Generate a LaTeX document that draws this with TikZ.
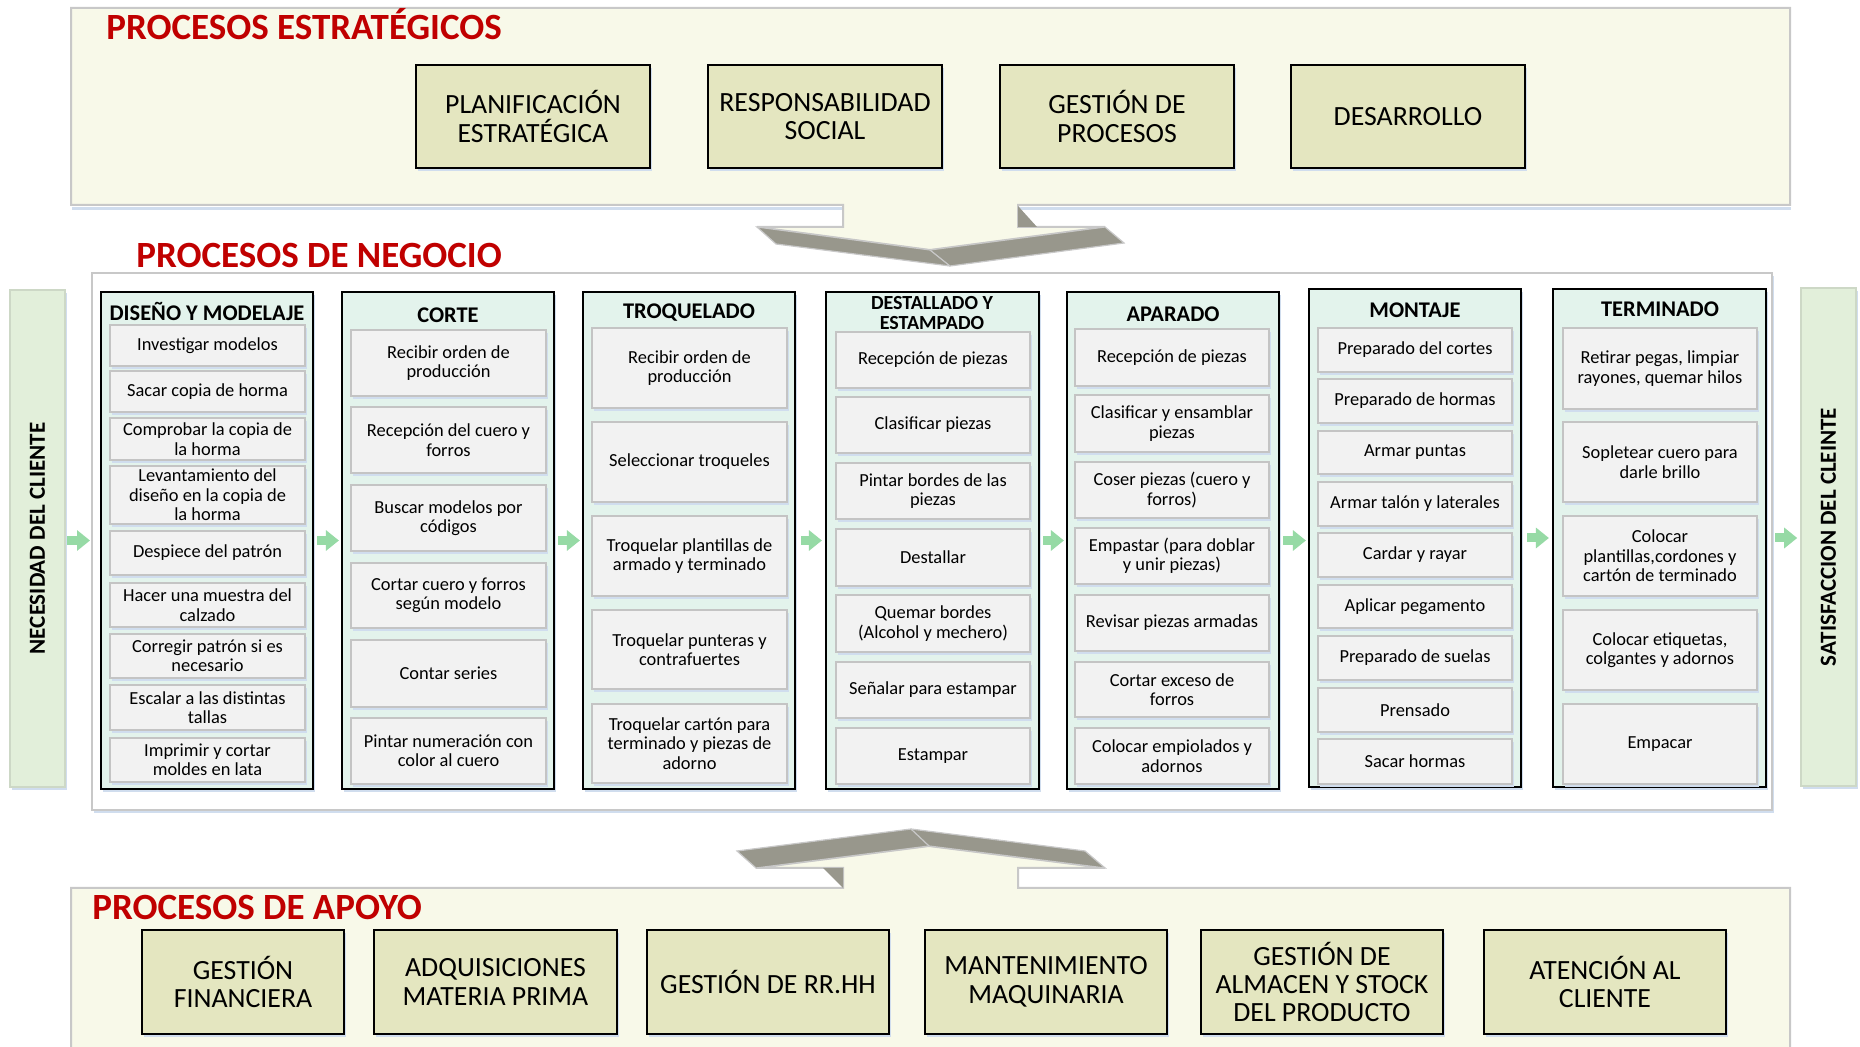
\documentclass[tikz,border=0pt]{standalone}
\usepackage{fontspec}
\setmainfont{Carlito}
\usetikzlibrary{shadows,arrows.meta}
\definecolor{panelc}{RGB}{248,249,233}
\definecolor{panelb}{RGB}{200,200,200}
\definecolor{boxc}{RGB}{228,230,192}
\definecolor{colc}{RGB}{227,243,236}
\definecolor{taskc}{RGB}{242,242,242}
\definecolor{taskb}{RGB}{196,196,196}
\definecolor{sidec}{RGB}{226,239,218}
\definecolor{sideb}{RGB}{205,216,198}
\definecolor{greenc}{RGB}{150,218,165}
\definecolor{bevelc}{RGB}{152,151,140}
\definecolor{redc}{RGB}{192,0,0}
\definecolor{shc}{RGB}{208,221,238}
\begin{document}
\begin{tikzpicture}[x=0.5pt,y=-0.5pt,
  rectat/.style n args={4}{at={({(#1+#3)/2},{(#2+#4)/2})}, minimum width={(#3-#1)*0.5pt}, minimum height={(#4-#2)*0.5pt}, anchor=center},
  shadowed/.style={general shadow={fill=shc, shadow xshift=1.2pt, shadow yshift=-1.5pt}},
  bigbox/.style={shadowed, fill=boxc, draw=black, line width=0.9pt, inner sep=0pt, align=center, font=\fontsize{13.9}{14.2}\selectfont},
  colbox/.style={shadowed, fill=colc, draw=black, line width=1.1pt, inner sep=0pt},
  task/.style={shadowed, fill=taskc, draw=taskb, line width=1pt, inner sep=0pt, align=center, font=\fontsize{9.2}{9.7}\selectfont},
  coltitle/.style={font=\bfseries\fontsize{11.2}{11.2}\selectfont, inner sep=0pt, align=center},
  redtitle/.style={font=\bfseries\fontsize{18.5}{18.5}\selectfont, text=redc, inner sep=0pt, anchor=base west},
  sidebox/.style={shadowed, fill=sidec, draw=sideb, line width=0.8pt, inner sep=0pt},
  sidetext/.style={rotate=90, font=\bfseries\fontsize{11.5}{11.5}\selectfont, inner sep=0pt},
  garrow/.style={draw=greenc, line width=4.5pt, -{Triangle[width=10pt,length=6.5pt]}},
  bevel/.style={fill=bevelc, draw=panelb, line width=0.6pt}
]
\useasboundingbox (0,0) rectangle (1860,1047);
\fill[white] (0,0) rectangle (1860,1047);

% ---------- strategic panel ----------
\draw[shc, line width=1.5pt] (72,209) -- (843,209);
\draw[shc, line width=1.5pt] (1018,209) -- (1791,209);
\filldraw[fill=panelc, draw=panelb, line width=1pt] (71,8) -- (1790,8) -- (1790,205) -- (1018,205) -- (1018,227) -- (1105,227) -- (930,250) -- (757,227) -- (843,227) -- (843,205) -- (71,205) -- cycle;
\filldraw[bevel] (757,227) -- (776,244) -- (950,266) -- (1124,243) -- (1105,227) -- (930,250) -- cycle;
\draw[panelb, line width=0.6pt] (930,250) -- (950,266);
\fill[bevelc] (1018,206) -- (1037,227) -- (1018,227) -- cycle;
\node[redtitle] (t1) at (106,40) {PROCESOS ESTRATÉGICOS};
\node[bigbox, rectat={416}{65}{650}{168}] (s1) {PLANIFICACIÓN\\ESTRATÉGICA};
\node[bigbox, rectat={708}{65}{942}{168}] (s2) {RESPONSABILIDAD\\SOCIAL};
\node[bigbox, rectat={1000}{65}{1234}{168}] (s3) {GESTIÓN DE\\PROCESOS};
\node[bigbox, rectat={1291}{65}{1525}{168}] (s4) {DESARROLLO};

% ---------- business panel ----------
\node[redtitle] (t2) at (136,268) {PROCESOS DE NEGOCIO};
\node[shadowed, fill=white, draw=panelb, line width=1pt, inner sep=0pt, rectat={92}{273}{1772}{810}] (bp) {};
\node[sidebox, rectat={10}{290}{65}{787}] (nc) {};
\node[sidetext] (nct) at (nc.center) {NECESIDAD DEL CLIENTE};
\node[sidebox, rectat={1801}{288}{1856}{786}] (sc) {};
\node[sidetext] (sct) at (sc.center) {SATISFACCION DEL CLEINTE};

% columns
\node[colbox, rectat={101}{292}{313}{789}] (c1) {};
\node[colbox, rectat={342}{292}{554}{789}] (c2) {};
\node[colbox, rectat={583}{292}{795}{789}] (c3) {};
\node[colbox, rectat={826}{292}{1039}{789}] (c4) {};
\node[colbox, rectat={1067}{292}{1279}{789}] (c5) {};
\node[colbox, rectat={1309}{289}{1521}{787}] (c6) {};
\node[colbox, rectat={1553}{289}{1766}{787}] (c7) {};

\node[coltitle] (h1) at (207,311) {DISEÑO Y MODELAJE};
\node[coltitle] (h2) at (448,315) {CORTE};
\node[coltitle] (h3) at (689,313) {TROQUELADO};
\node[coltitle, font=\bfseries\fontsize{10}{10}\selectfont] (h4) at (932,313) {DESTALLADO Y\\ESTAMPADO};
\node[coltitle] (h5) at (1173,314) {APARADO};
\node[coltitle] (h6) at (1415,310) {MONTAJE};
\node[coltitle] (h7) at (1660,309) {TERMINADO};

% column 1
\node[task, rectat={110}{325}{305}{366}] (d1) {Investigar modelos};
\node[task, rectat={110}{371}{305}{412}] (d2) {Sacar copia de horma};
\node[task, rectat={110}{418}{305}{460}] (d3) {Comprobar la copia de\\la horma};
\node[task, rectat={110}{466}{305}{524}] (d4) {Levantamiento del\\diseño en la copia de\\la horma};
\node[task, rectat={110}{531}{305}{575}] (d5) {Despiece del patrón};
\node[task, rectat={110}{583}{305}{627}] (d6) {Hacer una muestra del\\calzado};
\node[task, rectat={110}{634}{305}{678}] (d7) {Corregir patrón si es\\necesario};
\node[task, rectat={110}{685}{305}{730}] (d8) {Escalar a las distintas\\tallas};
\node[task, rectat={110}{738}{305}{782}] (d9) {Imprimir y cortar\\moldes en lata};

% column 2
\node[task, rectat={351}{330}{546}{396}] (e1) {Recibir orden de\\producción};
\node[task, rectat={351}{407}{546}{473}] (e2) {Recepción del cuero y\\forros};
\node[task, rectat={351}{485}{546}{551}] (e3) {Buscar modelos por\\códigos};
\node[task, rectat={351}{563}{546}{628}] (e4) {Cortar cuero y forros\\según modelo};
\node[task, rectat={351}{640}{546}{707}] (e5) {Contar series};
\node[task, rectat={351}{718}{546}{784}] (e6) {Pintar numeración con\\color al cuero};

% column 3
\node[task, rectat={592}{328}{787}{408}] (f1) {Recibir orden de\\producción};
\node[task, rectat={592}{422}{787}{502}] (f2) {Seleccionar troqueles};
\node[task, rectat={592}{516}{787}{596}] (f3) {Troquelar plantillas de\\armado y terminado};
\node[task, rectat={592}{610}{787}{689}] (f4) {Troquelar punteras y\\contrafuertes};
\node[task, rectat={592}{704}{787}{783}] (f5) {Troquelar cartón para\\terminado y piezas de\\adorno};

% column 4
\node[task, rectat={836}{332}{1030}{388}] (g1) {Recepción de piezas};
\node[task, rectat={836}{397}{1030}{453}] (g2) {Clasificar piezas};
\node[task, rectat={836}{463}{1030}{519}] (g3) {Pintar bordes de las\\piezas};
\node[task, rectat={836}{529}{1030}{586}] (g4) {Destallar};
\node[task, rectat={836}{595}{1030}{652}] (g5) {Quemar bordes\\(Alcohol y mechero)};
\node[task, rectat={836}{662}{1030}{718}] (g6) {Señalar para estampar};
\node[task, rectat={836}{728}{1030}{784}] (g7) {Estampar};

% column 5
\node[task, rectat={1075}{329}{1269}{386}] (k1) {Recepción de piezas};
\node[task, rectat={1075}{395}{1269}{452}] (k2) {Clasificar y ensamblar\\piezas};
\node[task, rectat={1075}{462}{1269}{518}] (k3) {Coser piezas (cuero y\\forros)};
\node[task, rectat={1075}{528}{1269}{584}] (k4) {Empastar (para doblar\\y unir piezas)};
\node[task, rectat={1075}{595}{1269}{651}] (k5) {Revisar piezas armadas};
\node[task, rectat={1075}{662}{1269}{717}] (k6) {Cortar exceso de\\forros};
\node[task, rectat={1075}{728}{1269}{784}] (k7) {Colocar empiolados y\\adornos};

% column 6
\node[task, rectat={1318}{328}{1512}{372}] (m1) {Preparado del cortes};
\node[task, rectat={1318}{379}{1512}{423}] (m2) {Preparado de hormas};
\node[task, rectat={1318}{431}{1512}{474}] (m3) {Armar puntas};
\node[task, rectat={1318}{482}{1512}{526}] (m4) {Armar talón y laterales};
\node[task, rectat={1318}{533}{1512}{577}] (m5) {Cardar y rayar};
\node[task, rectat={1318}{585}{1512}{628}] (m6) {Aplicar pegamento};
\node[task, rectat={1318}{636}{1512}{680}] (m7) {Preparado de suelas};
\node[task, rectat={1318}{688}{1512}{732}] (m8) {Prensado};
\node[task, rectat={1318}{739}{1512}{784}] (m9) {Sacar hormas};

% column 7
\node[task, rectat={1563}{328}{1757}{409}] (n1) {Retirar pegas, limpiar\\rayones, quemar hilos};
\node[task, rectat={1563}{422}{1757}{502}] (n2) {Sopletear cuero para\\darle brillo};
\node[task, rectat={1563}{516}{1757}{596}] (n3) {Colocar\\plantillas,cordones y\\cartón de terminado};
\node[task, rectat={1563}{610}{1757}{690}] (n4) {Colocar etiquetas,\\colgantes y adornos};
\node[task, rectat={1563}{704}{1757}{784}] (n5) {Empacar};

% green arrows
\draw[garrow, shorten <=0.5pt, shorten >=0.5pt] (nc.east |- c1.west) -- (bp.west |- c1.west);
\draw[garrow, shorten <=1.5pt, shorten >=1pt] (c1.east) -- (c1.east -| c2.west);
\draw[garrow, shorten <=1.5pt, shorten >=1pt] (c2.east) -- (c2.east -| c3.west);
\draw[garrow, shorten <=2.5pt, shorten >=1.5pt] (c3.east) -- (c3.east -| c4.west);
\draw[garrow, shorten <=1.5pt, shorten >=1pt] (c4.east) -- (c4.east -| c5.west);
\draw[garrow, shorten <=1.5pt, shorten >=1pt] (c5.east) -- (c5.east -| c6.west);
\draw[garrow, shorten <=2.5pt, shorten >=1.5pt] (c6.east) -- (c6.east -| c7.west);
\draw[garrow, shorten <=1pt, shorten >=1.5pt] (bp.east |- c7.east) -- (sc.west |- c7.east);

% ---------- support panel ----------
\fill[panelc] (71,888) -- (843,888) -- (843,868) -- (756,868) -- (929,846) -- (1105,868) -- (1018,868) -- (1018,888) -- (1790,888) -- (1790,1047) -- (71,1047) -- cycle;
\draw[panelb, line width=1pt] (71,1047) -- (71,888) -- (843,888) -- (843,868) -- (756,868) -- (929,846) -- (1105,868) -- (1018,868) -- (1018,888) -- (1790,888) -- (1790,1047);
\filldraw[bevel] (756,868) -- (737,851) -- (911,829) -- (1085,851) -- (1105,868) -- (929,846) -- cycle;
\draw[panelb, line width=0.6pt] (911,829) -- (929,846);
\fill[bevelc] (823,868) -- (843,868) -- (843,888) -- cycle;
\node[redtitle] (t3) at (92,920) {PROCESOS DE APOYO};
\node[bigbox, rectat={142}{930}{344}{1034}] (a1) {GESTIÓN\\FINANCIERA};
\node[bigbox, rectat={374}{930}{617}{1034}] (a2) {ADQUISICIONES\\MATERIA PRIMA};
\node[bigbox, rectat={647}{930}{889}{1034}] (a3) {GESTIÓN DE RR.HH};
\node[bigbox, rectat={925}{930}{1167}{1034}] (a4) {MANTENIMIENTO\\MAQUINARIA};
\node[bigbox, rectat={1201}{930}{1443}{1034}] (a5) {GESTIÓN DE\\ALMACEN Y STOCK\\DEL PRODUCTO};
\node[bigbox, rectat={1484}{930}{1726}{1034}] (a6) {ATENCIÓN AL\\CLIENTE};
\end{tikzpicture}
\end{document}
